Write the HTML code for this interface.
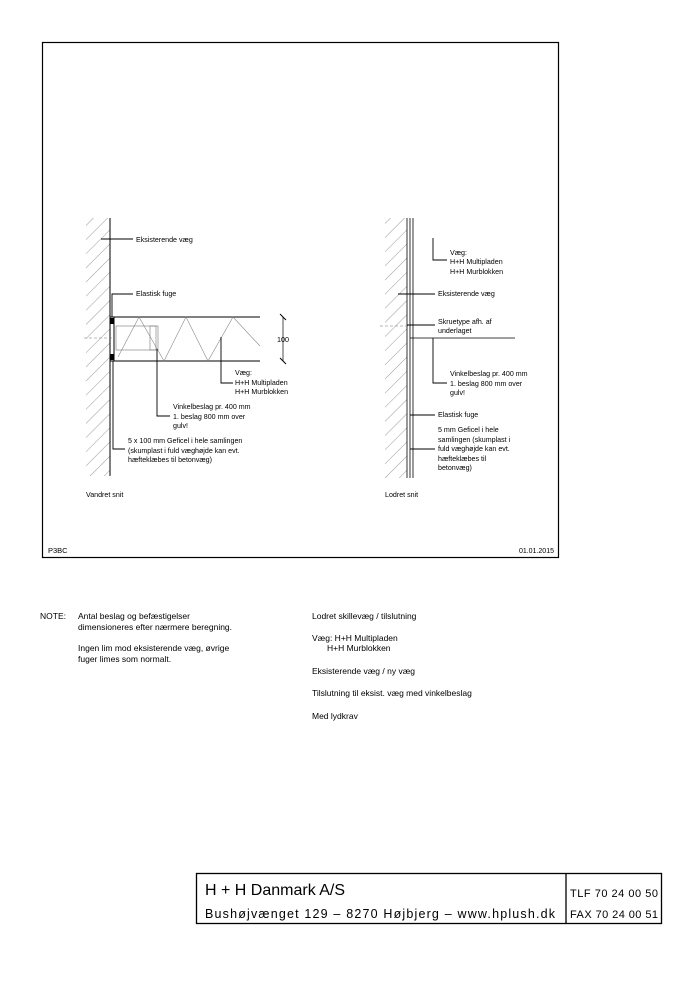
<!DOCTYPE html>
<html><head><meta charset="utf-8"><style>html,body{margin:0;padding:0;background:#fff}svg{display:block}text{font-family:"Liberation Sans",Arial,sans-serif;fill:#000}</style></head><body>
<svg width="700" height="991" viewBox="0 0 700 991" xmlns="http://www.w3.org/2000/svg">
<defs>
<pattern id="h" width="10" height="10" patternUnits="userSpaceOnUse" patternTransform="rotate(45)"><line x1="0" y1="0" x2="0" y2="10" stroke="#555" stroke-width="0.6"/></pattern>
</defs>
<rect x="42.5" y="42.5" width="516" height="515" fill="none" stroke="#000" stroke-width="1.2"/>
<text x="48" y="553" font-size="7.5">P3BC</text>
<text x="554" y="553" font-size="7" text-anchor="end">01.01.2015</text>

<rect x="86" y="218" width="24" height="258" fill="url(#h)"/>
<line x1="110" y1="218" x2="110" y2="476" stroke="#000" stroke-width="1"/>
<line x1="112" y1="317" x2="260" y2="317" stroke="#000" stroke-width="1"/>
<line x1="112" y1="361" x2="260" y2="361" stroke="#000" stroke-width="1"/>
<polyline points="118,357 139,317 164,361 186,317 208,361 233,317 260,346" fill="none" stroke="#888" stroke-width="0.6"/>
<rect x="110" y="317" width="4" height="44" fill="none" stroke="#000" stroke-width="1"/>
<rect x="110" y="318" width="4" height="6" fill="#000"/>
<rect x="110" y="354" width="4" height="6" fill="#000"/>
<rect x="116" y="326" width="40" height="24" fill="none" stroke="#777" stroke-width="0.6"/>
<rect x="150" y="326" width="8" height="24" fill="none" stroke="#777" stroke-width="0.6"/>
<line x1="84" y1="338" x2="112" y2="338" stroke="#777" stroke-width="0.6" stroke-dasharray="3,2"/>
<line x1="283" y1="317" x2="283" y2="361" stroke="#000" stroke-width="0.7"/>
<line x1="280" y1="314" x2="286" y2="320" stroke="#000"/>
<line x1="280" y1="358" x2="286" y2="364" stroke="#000"/>
<text x="283" y="342" font-size="7.2" text-anchor="middle">100</text>
<g stroke="#000" stroke-width="0.9" fill="none">
<polyline points="101,239 133,239"/>
<polyline points="112,317 112,294 133,294"/>
<polyline points="221,337 221,383 233,383"/>
<polyline points="157,349 157,416 170,416"/>
<polyline points="113,361 113,449 125,449"/>
</g>
<g font-size="7.1">
<text x="136" y="242">Eksisterende væg</text>
<text x="136" y="296">Elastisk fuge</text>
<text x="235" y="375">Væg:</text>
<text x="235" y="385">H+H Multipladen</text>
<text x="235" y="394">H+H Murblokken</text>
<text x="173" y="409">Vinkelbeslag pr. 400 mm</text>
<text x="173" y="419">1. beslag 800 mm over</text>
<text x="173" y="428">gulv!</text>
<text x="128" y="443">5 x 100 mm Geficel i hele samlingen</text>
<text x="128" y="453">(skumplast i fuld væghøjde kan evt.</text>
<text x="128" y="462">hæfteklæbes til betonvæg)</text>
<text x="86" y="497">Vandret snit</text>
</g>

<rect x="385" y="218" width="22" height="260" fill="url(#h)"/>
<line x1="407" y1="218" x2="407" y2="478" stroke="#000" stroke-width="0.8"/>
<line x1="410" y1="218" x2="410" y2="478" stroke="#000" stroke-width="0.8"/>
<line x1="413" y1="218" x2="413" y2="478" stroke="#000" stroke-width="0.8"/>
<line x1="410" y1="338" x2="515" y2="338" stroke="#000" stroke-width="0.7"/>
<line x1="380" y1="326" x2="410" y2="326" stroke="#777" stroke-width="0.6" stroke-dasharray="3,2"/>
<g stroke="#000" stroke-width="0.9" fill="none">
<polyline points="433,238 433,260 447,260"/>
<polyline points="398,294 435,294"/>
<polyline points="407,325 435,325"/>
<polyline points="433,338 433,383 447,383"/>
<polyline points="410,415 435,415"/>
<polyline points="410,449 435,449"/>
</g>
<g font-size="7.1">
<text x="450" y="255">Væg:</text>
<text x="450" y="264">H+H Multipladen</text>
<text x="450" y="274">H+H Murblokken</text>
<text x="438" y="296">Eksisterende væg</text>
<text x="438" y="324">Skruetype afh. af</text>
<text x="438" y="333">underlaget</text>
<text x="450" y="376">Vinkelbeslag pr. 400 mm</text>
<text x="450" y="386">1. beslag 800 mm over</text>
<text x="450" y="395">gulv!</text>
<text x="438" y="417">Elastisk fuge</text>
<text x="438" y="432">5 mm Geficel i hele</text>
<text x="438" y="442">samlingen (skumplast i</text>
<text x="438" y="451">fuld væghøjde kan evt.</text>
<text x="438" y="461">hæfteklæbes til</text>
<text x="438" y="470">betonvæg)</text>
<text x="385" y="497">Lodret snit</text>
</g>

<g font-size="8.5">
<text x="40" y="619">NOTE:</text>
<text x="78" y="619">Antal beslag og befæstigelser</text>
<text x="78" y="630">dimensioneres efter nærmere beregning.</text>
<text x="78" y="651">Ingen lim mod eksisterende væg, øvrige</text>
<text x="78" y="662">fuger limes som normalt.</text>
<text x="312" y="619">Lodret skillevæg / tilslutning</text>
<text x="312" y="641">Væg:  H+H Multipladen</text>
<text x="327" y="651">H+H Murblokken</text>
<text x="312" y="674">Eksisterende væg / ny væg</text>
<text x="312" y="696">Tilslutning til eksist. væg med vinkelbeslag</text>
<text x="312" y="719">Med lydkrav</text>
</g>

<rect x="196.5" y="873.5" width="465" height="50" fill="none" stroke="#000" stroke-width="1.3"/>
<line x1="566" y1="873" x2="566" y2="924" stroke="#000" stroke-width="1.3"/>
<text x="205" y="895" font-size="16">H + H Danmark A/S</text>
<text x="205" y="918" font-size="12.5" textLength="350">Bushøjvænget 129 – 8270 Højbjerg – www.hplush.dk</text>
<text x="570" y="897" font-size="11" textLength="88">TLF 70 24 00 50</text>
<text x="570" y="918" font-size="11" textLength="88">FAX 70 24 00 51</text>
</svg>
</body></html>
